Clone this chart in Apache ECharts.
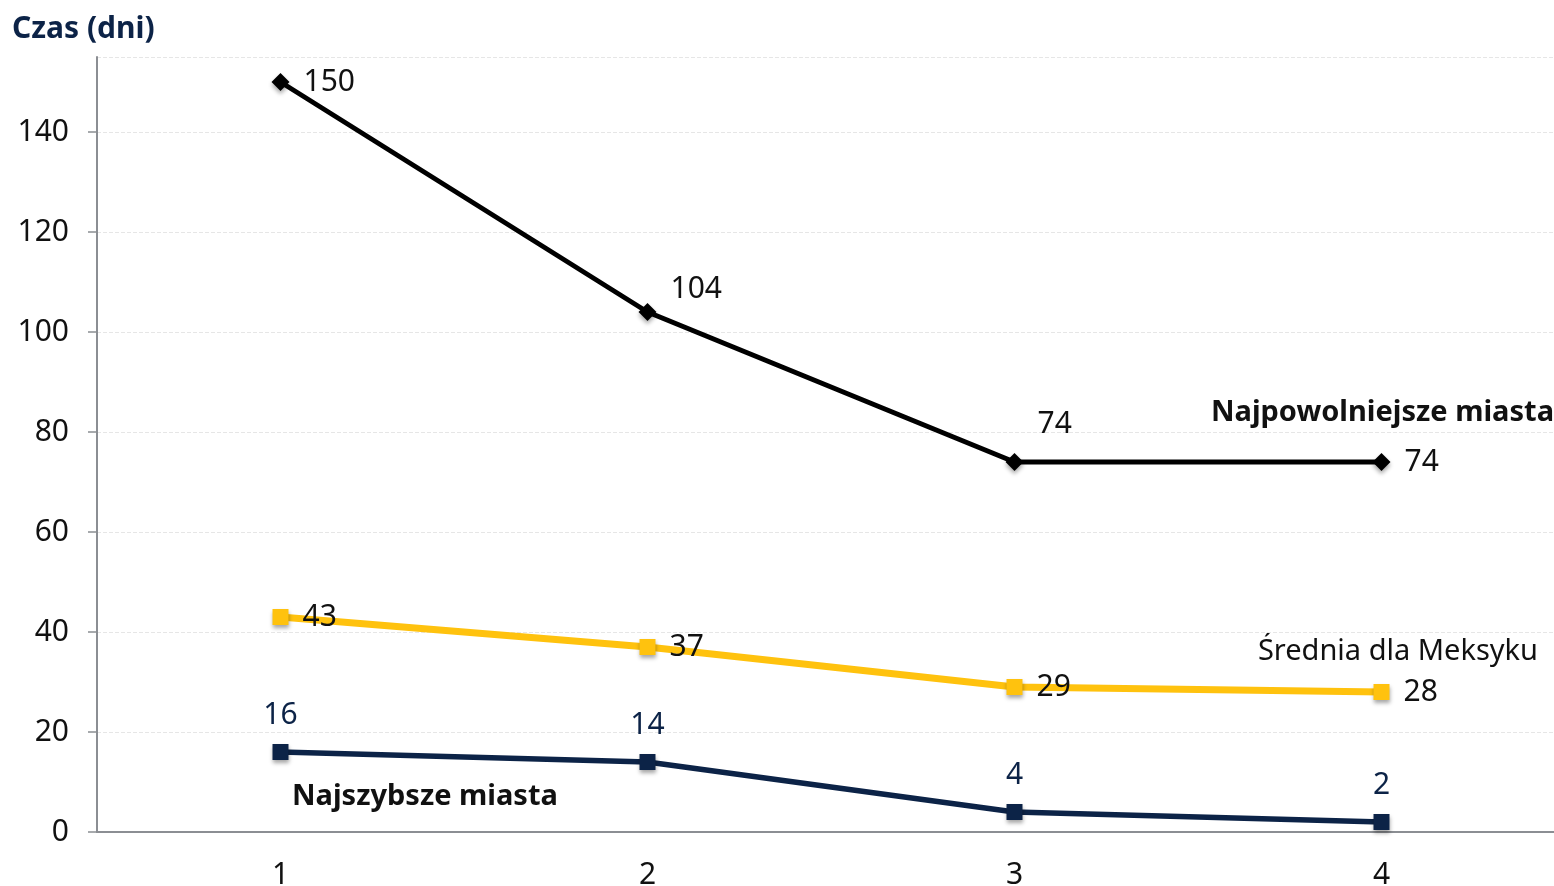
<!DOCTYPE html>
<html lang="pl">
<head>
<meta charset="UTF-8">
<title>Czas (dni)</title>
<script src="https://cdn.jsdelivr.net/npm/echarts@6/dist/echarts.min.js"></script>
<style>
  html, body { margin: 0; padding: 0; background: #fff; }
  #chart { width: 1554px; height: 886px; }
</style>
</head>
<body>
<div id="chart"></div>
<script>
  // dane
  var categories = ['1', '2', '3', '4'];
  var slowest = [150, 104, 74, 74];
  var average = [43, 37, 29, 28];
  var fastest = [16, 14, 4, 2];
  var yTicks = [0, 20, 40, 60, 80, 100, 120, 140];

  var FONT = '"Noto Sans", Roboto, sans-serif';
  var NAVY = '#0c2347';
  var YELLOW = '#ffc20e';

  var shadow = { shadowBlur: 4, shadowOffsetY: 3, shadowColor: 'rgba(0,0,0,0.35)' };

  var chart = echarts.init(document.getElementById('chart'));

  var option = {
    animation: false,
    grid: { left: 97, top: 57, width: 1468, height: 775, outerBoundsMode: 'none' },
    xAxis: {
      type: 'category',
      data: categories,
      boundaryGap: true,
      axisLine: { lineStyle: { color: '#8b8e93', width: 2 } },
      axisTick: { show: false },
      axisLabel: { color: '#111', fontSize: 30, fontFamily: FONT, margin: 28 }
    },
    yAxis: {
      type: 'value',
      min: 0,
      max: 155,
      interval: 20,
      axisLine: { show: true, lineStyle: { color: '#8b8e93', width: 2 } },
      axisTick: { show: true, length: 9, lineStyle: { color: '#8b8e93', width: 1.5 } },
      axisLabel: {
        color: '#111', fontSize: 30, fontFamily: FONT, margin: 28,
        showMaxLabel: false,
        formatter: function (v) { return yTicks.indexOf(v) >= 0 ? String(v) : ''; }
      },
      splitLine: { show: true, lineStyle: { color: '#e6e6e6', type: 'dashed', width: 1 } }
    },
    series: [
      {
        name: 'Najpowolniejsze miasta',
        type: 'line',
        data: slowest,
        symbol: 'diamond',
        symbolSize: 18,
        lineStyle: { color: '#000', width: 5 },
        itemStyle: Object.assign({ color: '#000' }, shadow),
        label: {
          show: true, position: 'right', distance: 14,
          color: '#111', fontSize: 30, fontFamily: FONT
        },
        labelLayout: function (p) {
          if (p.dataIndex === 1 || p.dataIndex === 2) {
            return { dy: p.dataIndex === 1 ? -23 : -38 };
          }
        },
        z: 3
      },
      {
        name: 'Średnia dla Meksyku',
        type: 'line',
        data: average,
        symbol: 'rect',
        symbolSize: 16,
        lineStyle: { color: YELLOW, width: 7 },
        itemStyle: Object.assign({ color: YELLOW }, shadow),
        label: {
          show: true, position: 'right', distance: 14,
          color: '#111', fontSize: 30, fontFamily: FONT
        },
        z: 2
      },
      {
        name: 'Najszybsze miasta',
        type: 'line',
        data: fastest,
        symbol: 'rect',
        symbolSize: 16,
        lineStyle: { color: NAVY, width: 5.5 },
        itemStyle: Object.assign({ color: NAVY }, shadow),
        label: {
          show: true, position: 'top', distance: 14,
          color: NAVY, fontSize: 30, fontFamily: FONT
        },
        z: 2
      }
    ],
    graphic: [
      {
        type: 'text', left: 12, top: 14,
        style: { text: 'Czas (dni)', fill: NAVY, font: 'bold 30px ' + FONT }
      },
      {
        type: 'text', right: 0, top: 398,
        style: { text: 'Najpowolniejsze miasta', fill: '#111', font: 'bold 29px ' + FONT }
      },
      {
        type: 'text', right: 16, top: 637,
        style: { text: 'Średnia dla Meksyku', fill: '#111', font: '29px ' + FONT }
      },
      {
        type: 'text', left: 292, top: 782,
        style: { text: 'Najszybsze miasta', fill: '#111', font: 'bold 29px ' + FONT }
      }
    ]
  };

  chart.setOption(option);
</script>
</body>
</html>
